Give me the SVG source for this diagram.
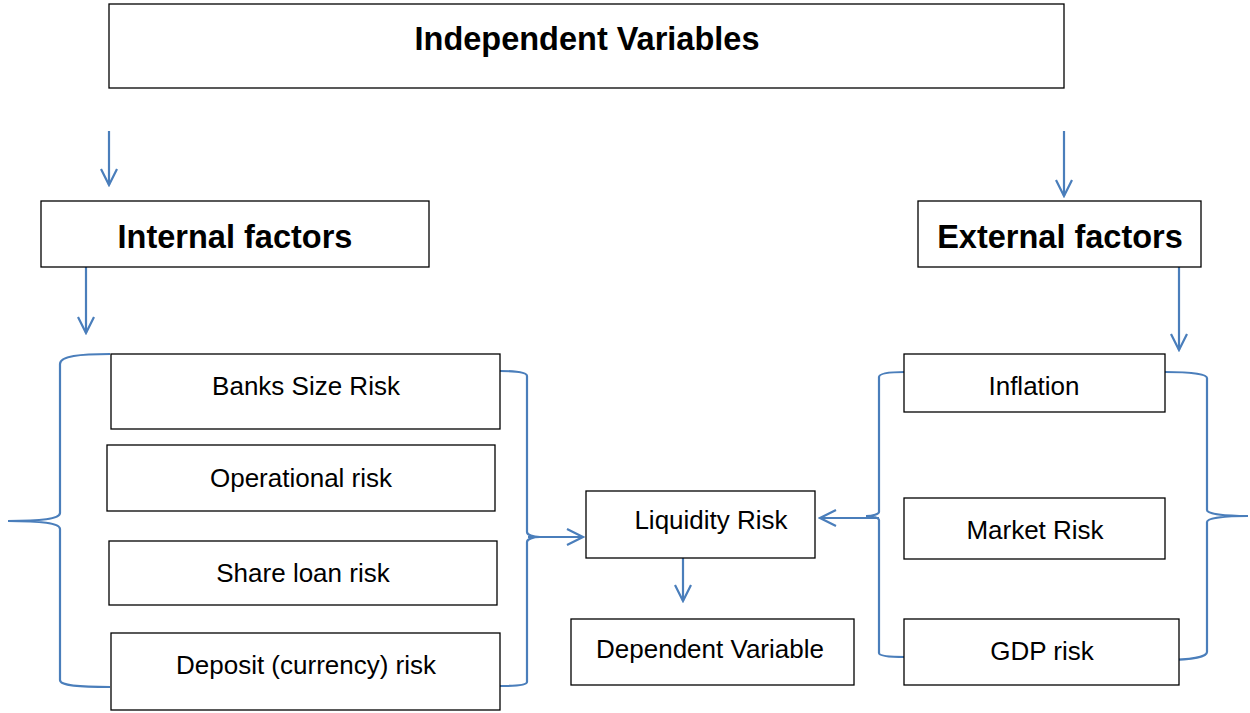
<svg xmlns="http://www.w3.org/2000/svg" width="1250" height="713" viewBox="0 0 1250 713">
<style>
.box{fill:#fff;stroke:#000;stroke-width:1.3}
.t{font-family:"Liberation Sans",Arial,sans-serif;font-size:26px;fill:#000;text-anchor:middle}
.b{font-family:"Liberation Sans",Arial,sans-serif;font-size:32.5px;font-weight:bold;fill:#000;text-anchor:middle}
.c{fill:none;stroke:#4a7ebb;stroke-width:2.2}
</style>
<defs>
<marker id="ah" viewBox="0 0 20 20" refX="18" refY="10" markerWidth="20" markerHeight="20" markerUnits="userSpaceOnUse" orient="auto">
<path d="M2,2 L18,10 L2,18" fill="none" stroke="#4a7ebb" stroke-width="2.2"/>
</marker>
</defs>
<rect width="1250" height="713" fill="#fff"/>
<g id="connectors">
<line class="c" x1="109" y1="131" x2="109" y2="185" marker-end="url(#ah)"/>
<line class="c" x1="1064" y1="131" x2="1064" y2="196" marker-end="url(#ah)"/>
<line class="c" x1="86" y1="267" x2="86" y2="333" marker-end="url(#ah)"/>
<line class="c" x1="1179" y1="267" x2="1179" y2="350" marker-end="url(#ah)"/>
<path class="c" d="M110,354 C80,354 60,356 60,364 L60,513 C60,519 40,521 8,521 C40,521 60,523 60,529 L60,680 C60,686 80,687 110,687"/>
<path class="c" d="M500,371 C515,371 527,372 527,376 L527,532 C527,535 533,537 540,537 C533,537 527,539 527,542 L527,682 C527,685 515,686 500,686"/>
<line class="c" x1="528" y1="537" x2="583" y2="537" marker-end="url(#ah)"/>
<line class="c" x1="683" y1="558" x2="683" y2="601" marker-end="url(#ah)"/>
<path class="c" d="M905,372 C890,372 879,373 879,377 L879,512 C879,514 873,516 866,516 C873,516 879,518 879,520 L879,653 C879,656 890,657 905,657"/>
<line class="c" x1="879" y1="518" x2="820" y2="518" marker-end="url(#ah)"/>
<path class="c" d="M1165,372 C1190,372 1207,374 1207,378 L1207,510 C1207,514 1225,516 1248,516 C1225,516 1207,518 1207,522 L1207,652 C1207,657 1190,660 1165,660"/>
</g>
<g id="independent"><rect class="box" x="109" y="4" width="955" height="84"/><text class="b" x="587" y="50">Independent Variables</text></g>
<g id="internal"><rect class="box" x="41" y="201" width="388" height="66"/><text class="b" x="235" y="248">Internal factors</text></g>
<g id="external"><rect class="box" x="918" y="201" width="283" height="66"/><text class="b" x="1060" y="248">External factors</text></g>
<g id="banks"><rect class="box" x="111" y="354" width="389" height="75"/><text class="t" x="306" y="395">Banks Size Risk</text></g>
<g id="operational"><rect class="box" x="107" y="445" width="388" height="66"/><text class="t" x="301" y="487">Operational risk</text></g>
<g id="share"><rect class="box" x="109" y="541" width="388" height="64"/><text class="t" x="303" y="582">Share loan risk</text></g>
<g id="deposit"><rect class="box" x="111" y="633" width="389" height="77"/><text class="t" x="306" y="674">Deposit (currency) risk</text></g>
<g id="liquidity"><rect class="box" x="586" y="491" width="229" height="67"/><text class="t" x="711" y="529">Liquidity Risk</text></g>
<g id="dependent"><rect class="box" x="571" y="619" width="283" height="66"/><text class="t" x="710" y="658">Dependent Variable</text></g>
<g id="inflation"><rect class="box" x="904" y="354" width="261" height="58"/><text class="t" x="1034" y="395">Inflation</text></g>
<g id="market"><rect class="box" x="904" y="498" width="261" height="61"/><text class="t" x="1035" y="539">Market Risk</text></g>
<g id="gdp"><rect class="box" x="904" y="619" width="275" height="66"/><text class="t" x="1042" y="660">GDP risk</text></g>
</svg>
